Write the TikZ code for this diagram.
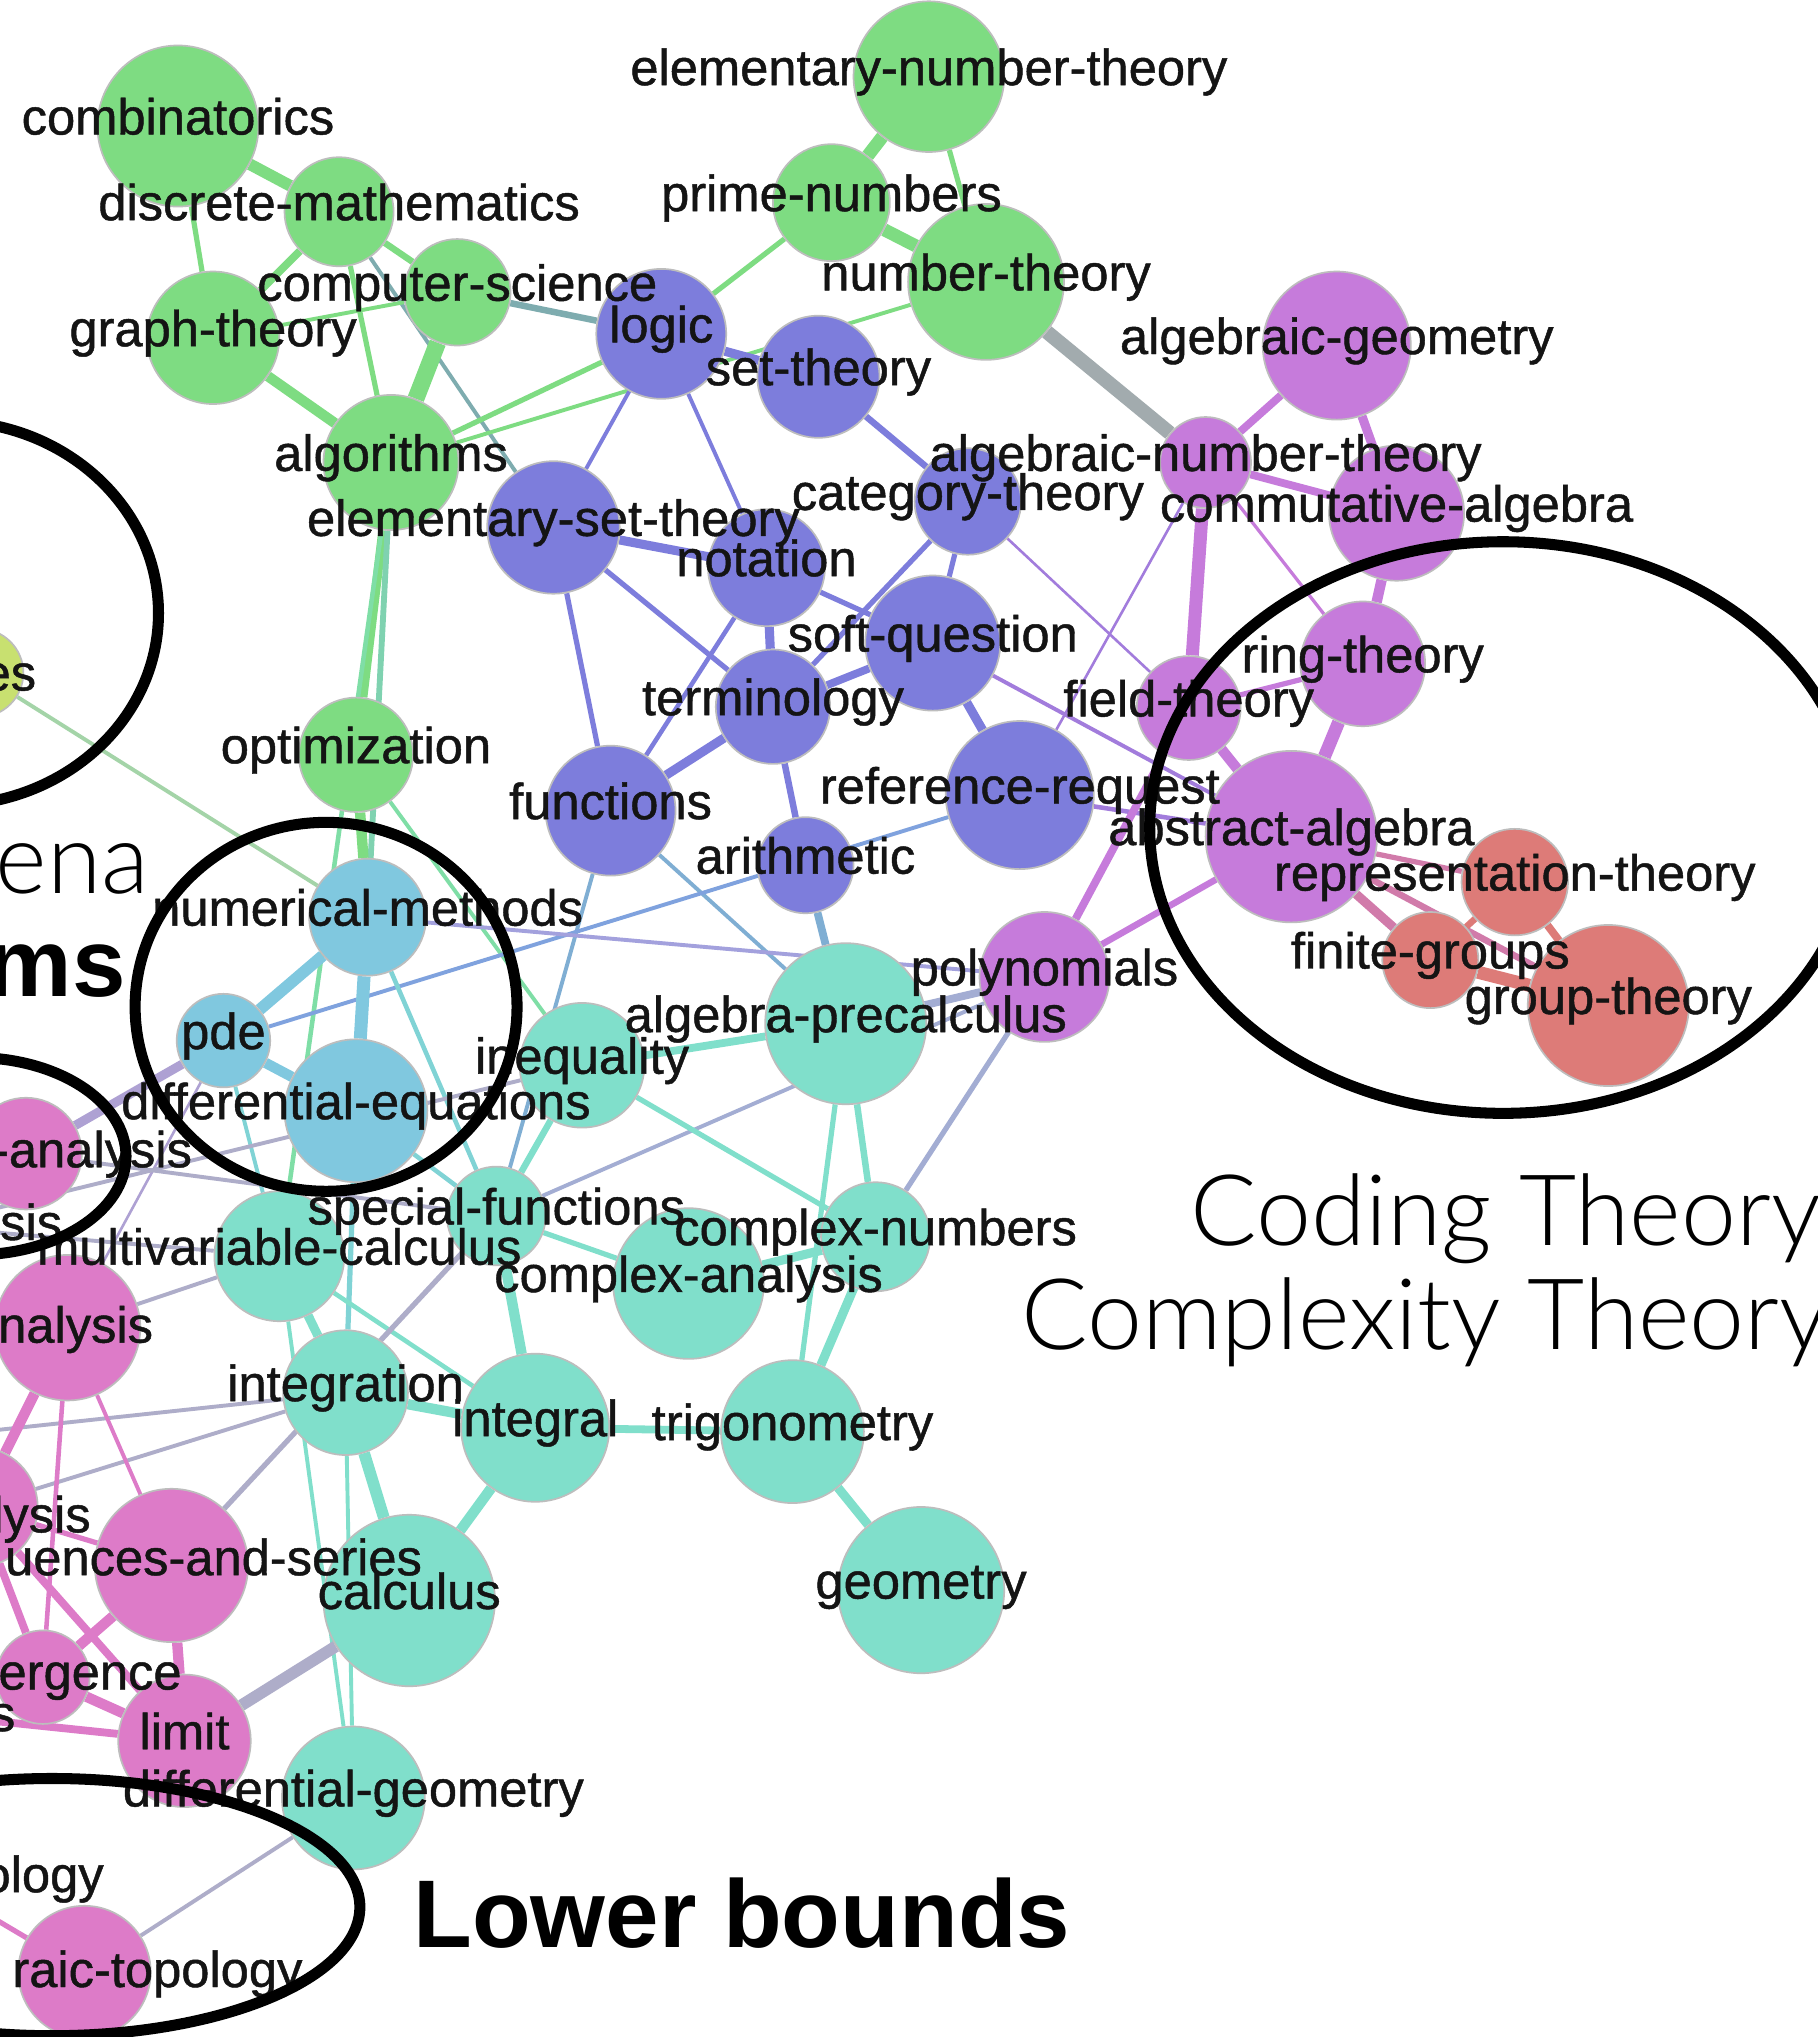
\documentclass[tikz,border=0pt]{standalone}
\usepackage{fontspec}
\setmainfont{Liberation Sans}
\newfontfamily\labfont{Liberation Sans}[FakeBold=0.9]
\IfFontExistsTF{Lato Light}{\newfontfamily\thinsans{Lato Light}}{\newfontfamily\thinsans{Lato}}
\pgfdeclarelayer{edges}\pgfdeclarelayer{labels}\pgfdeclarelayer{marks}
\pgfsetlayers{edges,main,labels,marks}

% cluster colours
\definecolor{gr}{HTML}{7EDC82}
\definecolor{pu}{HTML}{7D7DDC}
\definecolor{vi}{HTML}{C67BDB}
\definecolor{rd}{HTML}{DD7B78}
\definecolor{bl}{HTML}{80C8DF}
\definecolor{te}{HTML}{80DFCB}
\definecolor{pk}{HTML}{DD7BC8}
\definecolor{ye}{HTML}{C8E070}
\definecolor{rim}{HTML}{BDBDBD}
% mixed edge colours between clusters
\colorlet{grpu}{gr!50!pu}
\colorlet{grvi}{gr!50!vi}
\colorlet{grbl}{gr!50!bl}
\colorlet{grte}{gr!50!te}
\colorlet{yebl}{ye!50!bl}
\colorlet{puvi}{pu!50!vi}
\colorlet{pute}{pu!50!te}
\colorlet{publ}{pu!50!bl}
\colorlet{vite}{vi!50!te}
\colorlet{vird}{vi!50!rd}
\colorlet{blvi}{bl!50!vi}
\colorlet{blte}{bl!50!te}
\colorlet{pkbl}{pk!50!bl}
\colorlet{pkte}{pk!50!te}

\tikzset{
  circ/.style={circle, inner sep=0pt, draw=rim, line width=1.3pt},
  lab/.style={font=\labfont\fontsize{39}{39}\selectfont, inner sep=0pt,
              text height=29pt, text depth=8pt, text=black!92},
  ring/.style={draw=black, line width=8.5pt},
  thin big/.style={font=\thinsans\fontsize{76}{76}\selectfont, inner sep=0pt, text=black},
  bold big/.style={font=\bfseries\fontsize{74}{74}\selectfont, inner sep=0pt, text=black},
}

% topic node: name, x, y, radius, colour, label
\newcommand\gnode[6]{%
  \node[circ, fill=#5, minimum size={2*#4pt}] (#1) at (#2,#3) {};
  \begin{pgfonlayer}{labels}\node[lab, yshift=4pt] (#1-lab) at (#1.center) {#6};\end{pgfonlayer}}
% topic node whose label is set separately
\newcommand\cnode[5]{\node[circ, fill=#5, minimum size={2*#4pt}] (#1) at (#2,#3) {};}
% weighted link: colour, width, from, to
\newcommand\lnk[4]{\draw[draw=#1, line width=#2pt] (#3) -- (#4);}

\begin{document}
\begin{tikzpicture}[x=1pt,y=-1pt]
\useasboundingbox (0,0) rectangle (1399,1568);
\begin{pgfonlayer}{edges}\fill[white] (0,0) rectangle (1399,1568);\end{pgfonlayer}

% ---- green: discrete maths / number theory
\gnode{combinatorics}{137}{97}{62}{gr}{combinatorics}
\gnode{dm}{261}{163}{42}{gr}{discrete-mathematics}
\gnode{ent}{715}{59}{58}{gr}{elementary-number-theory}
\gnode{pn}{640}{156}{45}{gr}{prime-numbers}
\gnode{cs}{352}{225}{41}{gr}{computer-science}
\gnode{nt}{759}{217}{60}{gr}{number-theory}
\gnode{gt}{164}{260}{51}{gr}{graph-theory}
\gnode{alg}{301}{356}{52}{gr}{algorithms}
\gnode{opt}{274}{581}{44}{gr}{optimization}

% ---- purple: foundations
\gnode{logic}{509}{257}{50}{pu}{logic}
\gnode{st}{630}{290}{47}{pu}{set-theory}
\gnode{est}{426}{406}{51}{pu}{elementary-set-theory}
\gnode{ct}{745}{386}{41}{pu}{category-theory}
\gnode{notation}{590}{437}{45}{pu}{notation}
\gnode{sq}{718}{495}{52}{pu}{soft-question}
\gnode{term}{595}{544}{44}{pu}{terminology}
\gnode{func}{470}{624}{50}{pu}{functions}
\gnode{rr}{785}{612}{57}{pu}{reference-request}
\gnode{arith}{620}{666}{37}{pu}{arithmetic}

% ---- violet: algebra
\gnode{ag}{1029}{266}{57}{vi}{algebraic-geometry}
\gnode{ant}{928}{356}{35}{vi}{algebraic-number-theory}
\gnode{ca}{1075}{395}{52}{vi}{commutative-algebra}
\gnode{rt}{1049}{511}{48}{vi}{ring-theory}
\gnode{ft}{915}{545}{40}{vi}{field-theory}
\gnode{aa}{994}{644}{66}{vi}{abstract-algebra}
\gnode{poly}{804}{752}{50}{vi}{polynomials}

% ---- red: groups
\gnode{rep}{1166}{679}{41}{rd}{representation-theory}
\gnode{fgr}{1101}{739}{37}{rd}{finite-groups}
\gnode{gth}{1238}{774}{62}{rd}{group-theory}

% ---- blue: differential equations
\gnode{nm}{283}{706}{45}{bl}{numerical-methods}
\gnode{pde}{172}{801}{36}{bl}{pde}
\gnode{de}{274}{855}{55}{bl}{differential-equations}

% ---- teal: calculus
\gnode{ap}{651}{788}{62}{te}{algebra-precalculus}
\gnode{ineq}{448}{820}{48}{te}{inequality}
\gnode{sf}{382}{936}{38}{te}{special-functions}
\gnode{mc}{215}{967}{50}{te}{multivariable-calculus}
\gnode{cn}{674}{952}{42}{te}{complex-numbers}
\gnode{cx}{530}{988}{58}{te}{complex-analysis}
\gnode{integration}{266}{1072}{48}{te}{integration}
\gnode{integral}{412}{1099}{57}{te}{integral}
\gnode{trig}{610}{1102}{55}{te}{trigonometry}
\gnode{calc}{315}{1232}{66}{te}{calculus}
\gnode{geom}{709}{1224}{64}{te}{geometry}
\gnode{dg}{272}{1384}{55}{te}{differential-geometry}

% ---- pink: analysis (partly beyond the left edge)
\cnode{esn}{-16}{518}{34}{ye}
\cnode{anl}{20}{888}{43}{pk}
\cnode{sisn}{-60}{944}{40}{pk}
\cnode{nal}{52}{1022}{56}{pk}
\cnode{lys}{-17}{1160}{46}{pk}
\cnode{seq}{132}{1205}{59}{pk}
\cnode{conv}{33}{1291}{36}{pk}
\cnode{sn}{-50}{1320}{35}{pk}
\gnode{limit}{142}{1340}{51}{pk}{limit}
\cnode{olog}{-60}{1444}{40}{pk}
\cnode{atop}{65}{1518}{51}{pk}
\coordinate (offa) at (-70,1108);

\begin{pgfonlayer}{labels}
\node[lab, anchor=east] (esn-lab) at (28,521) {es};
\node[lab, anchor=east] (anl-lab) at (148,888) {-analysis};
\node[lab, anchor=east] (sisn-lab) at (48,944) {sis};
\node[lab, anchor=east] (nal-lab) at (118,1023) {nalysis};
\node[lab, anchor=east] (lys-lab) at (70,1169) {lysis};
\node[lab, anchor=east] (seq-lab) at (325,1202) {uences-and-series};
\node[lab, anchor=east] (conv-lab) at (140,1290) {ergence};
\node[lab, anchor=east] (sn-lab) at (12,1322) {s};
\node[lab, anchor=east] (olog-lab) at (80,1446) {ology};
\node[lab, anchor=east] (atop-lab) at (233,1519) {raic-topology};
\end{pgfonlayer}

\begin{pgfonlayer}{edges}
% green
\lnk{gr}{9}{combinatorics}{dm}
\lnk{gr}{4}{combinatorics}{gt}
\lnk{gr}{6}{dm}{gt}
\lnk{gr}{5}{dm}{cs}
\lnk{gr}{4}{dm}{alg}
\lnk{grpu}{3}{dm}{est}
\lnk{grpu}{5}{cs}{logic}
\lnk{gr}{13}{cs}{alg}
\lnk{gr}{8}{gt}{alg}
\lnk{gr}{3}{gt}{cs}
\lnk{gr}{4}{alg}{logic}
\lnk{gr}{3}{alg}{nt}
\lnk{gr}{4}{logic}{pn}
\lnk{gr}{10}{pn}{ent}
\lnk{gr}{10}{pn}{nt}
\lnk{gr}{4}{ent}{nt}
\lnk{grvi}{11}{nt}{ant}
\lnk{gr}{7}{alg}{opt}
\lnk{grbl}{4.5}{alg}{nm}
\lnk{grte}{3.5}{alg}{mc}
\lnk{gr}{8}{opt}{nm}
\lnk{grte}{3}{opt}{ineq}
\lnk{yebl}{3}{esn}{nm}
% purple
\lnk{pu}{7}{logic}{st}
\lnk{pu}{3}{logic}{est}
\lnk{pu}{3}{logic}{notation}
\lnk{pu}{5}{st}{ct}
\lnk{pu}{7}{est}{notation}
\lnk{pu}{4}{est}{func}
\lnk{pu}{4}{est}{term}
\lnk{pu}{4}{notation}{sq}
\lnk{pu}{7}{notation}{term}
\lnk{pu}{3.5}{notation}{func}
\lnk{pu}{4}{ct}{term}
\lnk{pu}{4}{ct}{sq}
\lnk{puvi}{2}{ct}{ft}
\lnk{pu}{6}{sq}{term}
\lnk{pu}{7}{sq}{rr}
\lnk{puvi}{3}{sq}{aa}
\lnk{pu}{7}{term}{func}
\lnk{pu}{5}{term}{arith}
\lnk{pute}{3}{func}{sf}
\lnk{pute}{3}{func}{ap}
\lnk{pute}{6}{arith}{ap}
\lnk{publ}{3}{pde}{rr}
\lnk{puvi}{3.5}{rr}{aa}
\lnk{puvi}{2}{rr}{ant}
% violet
\lnk{vi}{6}{ag}{ant}
\lnk{vi}{7}{ag}{ca}
\lnk{vi}{6}{ant}{ca}
\lnk{vi}{10}{ant}{ft}
\lnk{vi}{2.5}{ant}{rt}
\lnk{vi}{8}{ca}{rt}
\lnk{vi}{4}{rt}{ft}
\lnk{vi}{10}{rt}{aa}
\lnk{vi}{8}{ft}{aa}
\lnk{vi}{6}{poly}{ft}
\lnk{vi}{5}{poly}{aa}
\lnk{vite}{6}{poly}{ap}
\lnk{vite}{4}{poly}{cn}
\lnk{vite}{3}{sf}{poly}
\lnk{blvi}{3}{nm}{poly}
% red
\lnk{vird}{4}{aa}{rep}
\lnk{vird}{7}{aa}{fgr}
\lnk{vird}{5}{aa}{gth}
\lnk{rd}{5}{rep}{fgr}
\lnk{rd}{6}{rep}{gth}
\lnk{rd}{10}{fgr}{gth}
% blue
\lnk{bl}{9}{nm}{pde}
\lnk{bl}{10}{nm}{de}
\lnk{bl}{8}{pde}{de}
\lnk{blte}{3.5}{nm}{sf}
\lnk{blte}{3.5}{de}{sf}
\lnk{blte}{3}{pde}{mc}
\lnk{blte}{4}{de}{integration}
\lnk{pkbl}{7}{anl}{pde}
\lnk{pkbl}{2}{pde}{nal}
% teal
\lnk{te}{6}{ap}{ineq}
\lnk{te}{5}{ap}{cn}
\lnk{te}{4}{ap}{trig}
\lnk{te}{4}{ineq}{cn}
\lnk{te}{5}{ineq}{sf}
\lnk{te}{4}{sf}{cx}
\lnk{te}{8}{sf}{integral}
\lnk{te}{7}{mc}{integration}
\lnk{te}{3.5}{mc}{integral}
\lnk{te}{3}{mc}{dg}
\lnk{te}{8}{integration}{integral}
\lnk{te}{9}{integration}{calc}
\lnk{te}{3}{integration}{dg}
\lnk{te}{6}{integral}{trig}
\lnk{te}{8}{integral}{calc}
\lnk{te}{7}{cx}{cn}
\lnk{te}{7}{cn}{trig}
\lnk{te}{7}{trig}{geom}
% pink and pink-teal
\lnk{pkte}{4}{seq}{sf}
\lnk{pkte}{3}{anl}{sf}
\lnk{pkte}{9}{limit}{calc}
\lnk{pkte}{3}{dg}{atop}
\lnk{pkte}{3}{lys}{integration}
\lnk{pkte}{3}{offa}{integration}
\lnk{pkte}{3}{nal}{mc}
\lnk{pkte}{3}{sisn}{mc}
\lnk{pkte}{3}{sisn}{ineq}
\lnk{pk}{8}{nal}{lys}
\lnk{pk}{3}{nal}{seq}
\lnk{pk}{3.5}{nal}{conv}
\lnk{pk}{4}{lys}{seq}
\lnk{pk}{6}{lys}{conv}
\lnk{pk}{6}{lys}{limit}
\lnk{pk}{8}{seq}{conv}
\lnk{pk}{8}{seq}{limit}
\lnk{pk}{8}{conv}{limit}
\lnk{pk}{6}{sn}{limit}
\lnk{pk}{4}{olog}{atop}
\end{pgfonlayer}

\begin{pgfonlayer}{marks}
\draw[ring] (-40,472) ellipse [x radius=162pt, y radius=148pt];
\draw[ring] (251,775) ellipse [x radius=147pt, y radius=142pt];
\draw[ring] (-20,890) ellipse [x radius=117pt, y radius=76pt];
\draw[ring] (1157,637) ellipse [x radius=272pt, y radius=220pt];
\draw[ring] (40,1468) ellipse [x radius=237pt, y radius=99pt];
\node[thin big, anchor=base east] (ena) at (115,688) {ena};
\node[bold big, anchor=base east] (ms) at (97,767) {ms};
\node[thin big, anchor=base west] (coding) at (916,959) {Coding Theory};
\node[thin big, anchor=base west] (complexity) at (786,1039) {Complexity Theory};
\node[bold big, anchor=base west] (lower) at (318,1499) {Lower bounds};
\end{pgfonlayer}
\end{tikzpicture}
\end{document}
